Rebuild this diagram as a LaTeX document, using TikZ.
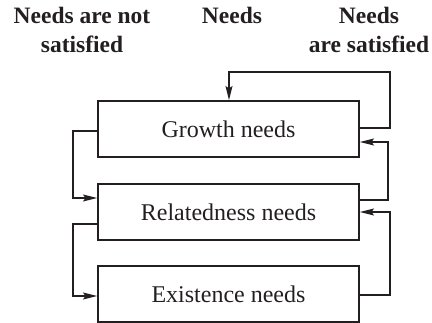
\documentclass[tikz,border=0pt]{standalone}
\usepackage{fontspec}
\setmainfont{Liberation Serif}
\usetikzlibrary{arrows.meta}
\definecolor{ink}{HTML}{231F20}
\begin{document}
\begin{tikzpicture}[x=1pt,y=-1pt,
  needbox/.style={draw=ink,line width=1.1pt,minimum width=261pt,minimum height=56pt,inner sep=0pt,
    font=\fontsize{24}{28}\selectfont,text=ink},
  head/.style={font=\fontsize{23.5}{29}\selectfont\bfseries,align=center,text=ink,inner sep=0pt},
  conn/.style={draw=ink,line width=2.7pt,-{Stealth[length=14pt,width=6.5pt,inset=2pt]}},
  ]
\useasboundingbox (0,0) rectangle (432,323);
\node[needbox] (g) at (228.5,129) {Growth needs};
\node[needbox] (r) at (228.5,212) {Relatedness needs};
\node[needbox] (e) at (228.5,294) {Existence needs};
\node[head,anchor=base] (hn) at (82,53) {Needs are not\\satisfied};
\node[head,anchor=base] (hm) at (232,24) {Needs};
\node[head,anchor=base] (hs) at (369,53) {Needs\\are satisfied};
\draw[conn] (g.west |- 0,131) -| (73,198) -- (r.west |- 0,198);
\draw[conn] (r.west |- 0,224) -| (73,296) -- (e.west |- 0,296);
\draw[conn] (g.east |- 0,128) -| (390,72) -| (g.north -| 229,0);
\draw[conn] (r.east |- 0,200) -| (388,142) -- (g.east |- 0,142);
\draw[conn] (e.east |- 0,295) -| (390,212) -- (r.east |- 0,212);
\end{tikzpicture}
\end{document}
